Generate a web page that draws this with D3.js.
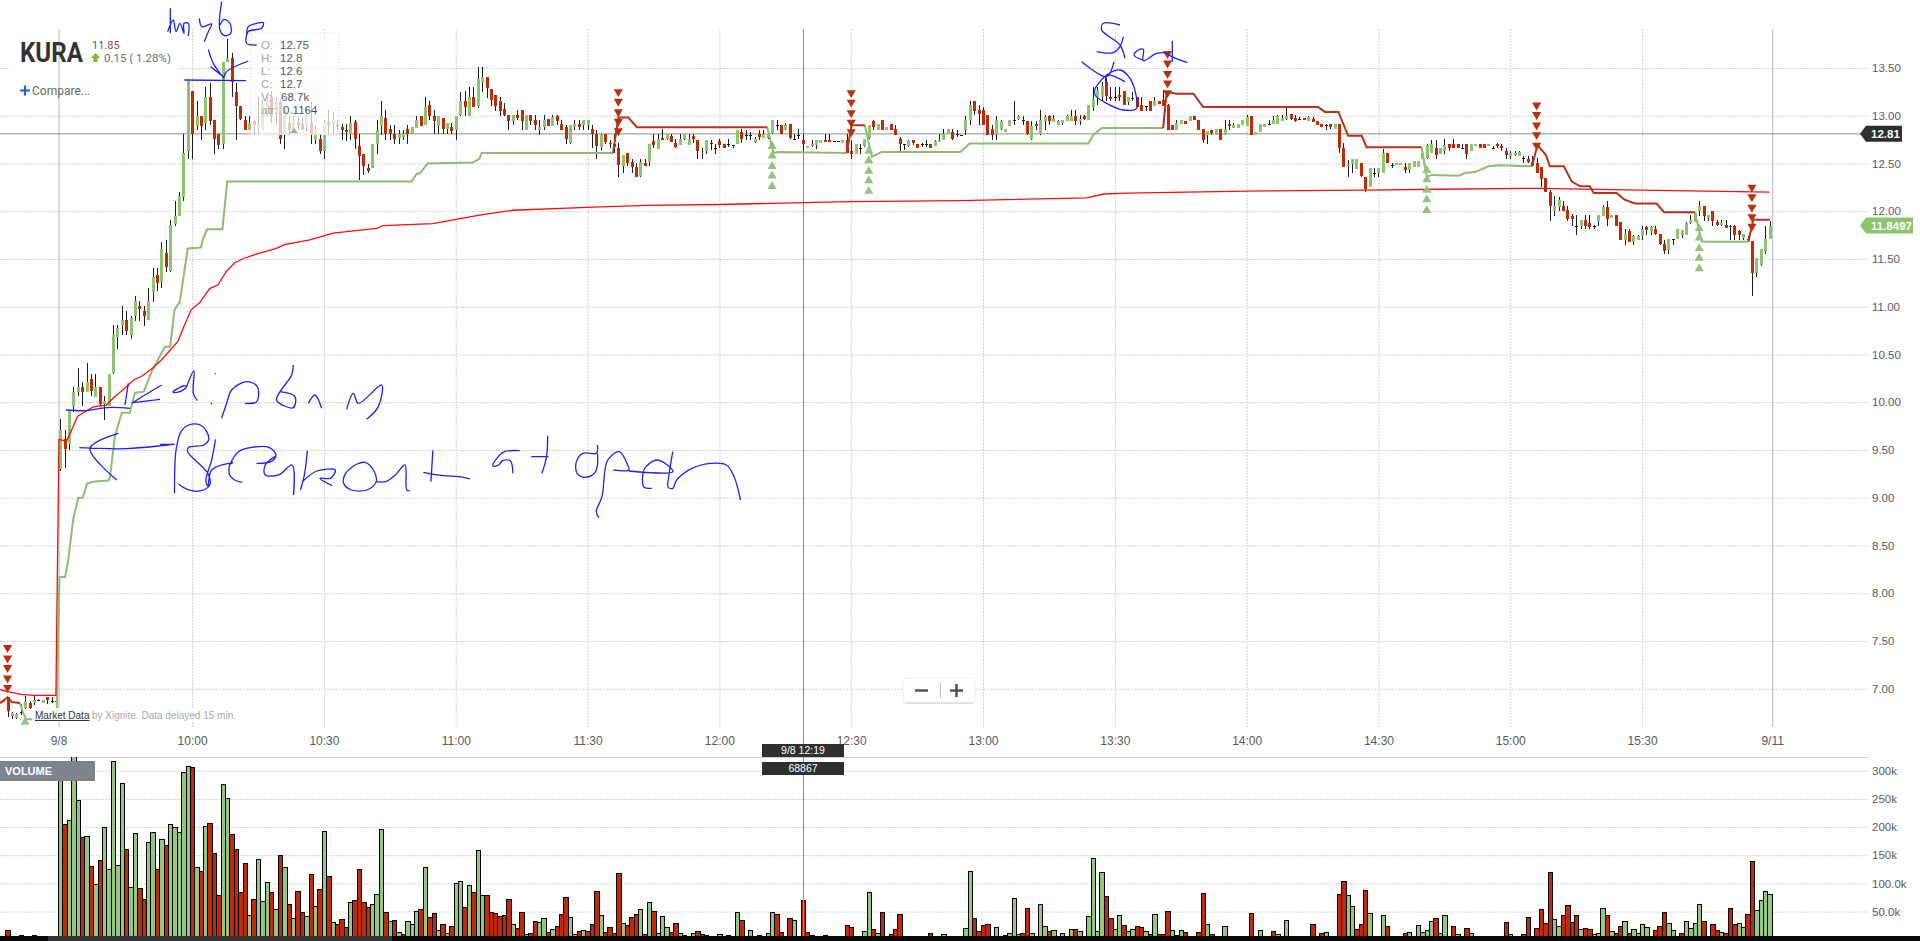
<!DOCTYPE html>
<html>
<head>
<meta charset="utf-8">
<script src="https://cdnjs.cloudflare.com/ajax/libs/d3/7.8.5/d3.min.js"></script>
<style>
  html, body { margin: 0; padding: 0; background: #fff; overflow: hidden; }
  svg { display: block; }
  text { font-family: "Liberation Sans", Arial, sans-serif; }
</style>
</head>
<body>
<script>
// one candle per minute, the first one is 12 minutes before the open
var firstMinute = -12;

var openValues = [
6.91,6.72,6.70,6.76,6.80,6.85,6.85,6.88,6.85,6.91,6.87,6.87,
9.30,9.61,9.56,9.96,10.11,10.16,10.11,10.24,10.06,10.16,
9.98,9.96,10.30,10.69,10.81,10.86,10.70,10.90,11.01,10.95,
10.86,11.15,11.33,11.25,11.56,11.38,11.87,11.95,12.15,12.63,
13.26,12.90,13.00,12.93,13.20,12.95,12.81,12.70,13.56,13.60,
13.25,13.10,12.95,12.85,12.94,12.87,12.85,13.02,13.20,13.00,
13.14,12.80,12.92,12.83,12.93,12.91,12.88,12.92,12.75,12.76,
12.63,12.93,12.91,12.91,12.88,12.85,12.80,12.93,12.68,12.60,
12.45,12.45,12.70,12.90,12.98,12.86,12.81,12.77,12.78,12.86,
12.81,12.88,13.00,12.90,13.11,13.00,12.90,12.98,12.86,12.88,
12.85,13.00,13.15,13.00,13.20,13.10,13.36,13.41,13.28,13.22,
13.15,13.07,13.01,12.95,13.01,13.06,12.85,13.01,12.95,12.85,
12.88,12.97,12.90,13.00,12.91,12.88,12.71,12.88,12.91,12.90,
12.90,12.86,12.81,12.67,12.81,12.71,12.70,12.66,12.47,12.61,
12.51,12.46,12.36,12.50,12.51,12.73,12.66,12.77,12.76,12.79,
12.71,12.70,12.76,12.70,12.79,12.75,12.60,12.63,12.71,12.66,
12.73,12.70,12.70,12.69,12.70,12.83,12.80,12.80,12.73,12.81,
12.77,12.77,12.81,12.90,12.90,12.86,12.91,12.76,12.80,12.75,
12.66,12.68,12.70,12.72,12.75,12.75,12.73,12.73,12.72,12.75,
12.63,12.60,12.66,12.69,12.76,12.94,12.85,12.95,12.85,12.91,
12.86,12.76,12.70,12.68,12.75,12.70,12.70,12.70,12.70,12.68,
12.73,12.75,12.81,12.83,12.81,12.80,12.85,12.95,13.15,13.06,
13.06,13.01,12.86,12.80,12.86,12.83,12.89,12.95,12.97,12.95,
12.94,12.75,12.91,12.80,12.95,13.00,12.94,12.90,12.92,12.95,
12.95,13.00,12.95,13.00,12.95,13.10,13.20,13.20,13.35,13.20,
13.20,13.22,13.26,13.15,13.19,13.20,13.11,13.10,13.15,13.10,
13.15,13.16,13.11,12.90,12.85,12.91,12.94,12.95,13.00,12.95,
12.86,12.80,12.85,12.80,12.86,12.80,12.91,12.87,12.87,12.90,
12.90,13.00,12.80,12.83,12.88,12.91,12.91,12.92,12.95,12.97,
13.02,12.98,12.97,12.98,12.95,12.97,12.94,12.91,12.90,12.91,
12.86,12.91,12.66,12.47,12.50,12.45,12.50,12.36,12.25,12.40,
12.40,12.40,12.61,12.48,12.48,12.48,12.46,12.43,12.47,12.47,
12.55,12.55,12.61,12.66,12.60,12.63,12.70,12.70,12.70,12.66,
12.70,12.63,12.68,12.70,12.70,12.68,12.66,12.70,12.68,12.63,
12.58,12.59,12.58,12.56,12.55,12.52,12.50,12.46,12.35,12.20,
12.00,12.05,12.05,12.01,11.95,11.85,11.85,11.91,11.88,11.85,
11.90,11.95,12.04,11.93,11.96,11.89,11.70,11.79,11.68,11.70,
11.74,11.83,11.79,11.81,11.76,11.66,11.59,11.71,11.71,11.75,
11.75,11.88,11.89,12.00,12.05,11.93,12.00,11.89,11.86,11.86,
11.85,11.84,11.79,11.72,11.71,11.69,11.35,11.43,11.58,11.71];

var highValues = [
6.91,6.76,6.75,6.84,6.92,6.87,6.92,6.89,6.88,6.91,6.91,6.88,
9.82,9.71,9.91,10.16,10.36,10.21,10.41,10.30,10.30,10.16,
10.06,10.30,10.81,10.81,11.01,10.96,10.90,11.11,11.06,11.01,
11.20,11.41,11.41,11.68,11.70,11.91,12.11,12.20,12.81,13.36,
13.26,13.15,13.00,13.30,13.34,12.95,12.81,13.56,13.80,13.66,
13.34,13.10,13.00,13.00,12.95,13.20,13.16,13.20,13.26,13.20,
13.16,13.10,13.00,13.00,13.00,12.99,13.09,13.14,12.90,12.81,
12.95,13.06,13.04,12.95,12.91,12.91,13.00,12.95,12.81,12.60,
12.49,12.70,12.95,13.15,13.06,12.90,12.90,12.85,12.85,12.90,
12.88,13.00,13.00,13.20,13.15,13.06,13.00,12.98,12.92,12.92,
13.00,13.25,13.26,13.30,13.30,13.51,13.51,13.41,13.28,13.22,
13.20,13.13,13.01,13.01,13.06,13.06,13.01,13.01,13.01,12.95,
13.01,12.97,13.01,13.01,12.95,12.90,12.90,12.95,12.95,12.95,
12.95,12.90,12.85,12.81,12.81,12.75,12.81,12.71,12.59,12.61,
12.55,12.50,12.55,12.55,12.70,12.81,12.81,12.86,12.81,12.81,
12.76,12.81,12.81,12.81,12.81,12.75,12.66,12.75,12.75,12.70,
12.76,12.70,12.76,12.69,12.85,12.86,12.85,12.83,12.78,12.85,
12.85,12.85,12.95,12.95,12.90,12.92,12.91,12.81,12.86,12.81,
12.68,12.75,12.75,12.75,12.81,12.81,12.74,12.74,12.75,12.81,
12.75,12.70,12.70,12.76,12.90,12.95,12.91,12.95,12.88,12.91,
12.90,12.78,12.70,12.75,12.75,12.70,12.71,12.75,12.70,12.75,
12.81,12.86,12.86,12.86,12.85,12.80,13.00,13.15,13.15,13.11,
13.09,13.01,12.90,13.00,12.95,12.86,12.95,13.15,13.01,13.00,
12.94,12.94,12.94,13.06,13.01,13.01,13.01,12.95,12.95,13.01,
13.06,13.06,13.01,13.01,13.11,13.30,13.30,13.35,13.40,13.30,
13.30,13.30,13.26,13.20,13.25,13.20,13.20,13.10,13.15,13.20,
13.15,13.27,13.12,12.90,12.95,12.95,12.94,13.00,13.00,12.95,
12.86,12.84,12.85,12.86,12.86,12.95,12.95,12.92,12.91,12.95,
13.01,13.00,12.83,12.91,12.91,12.95,13.00,13.01,13.01,13.10,
13.02,13.01,12.99,12.98,13.00,12.99,12.94,12.91,12.91,12.91,
12.91,12.91,12.71,12.54,12.55,12.55,12.50,12.36,12.45,12.45,
12.45,12.65,12.61,12.50,12.50,12.50,12.50,12.50,12.53,12.53,
12.61,12.70,12.75,12.75,12.66,12.76,12.70,12.76,12.70,12.70,
12.70,12.70,12.70,12.70,12.70,12.70,12.68,12.71,12.70,12.66,
12.63,12.63,12.63,12.58,12.58,12.58,12.56,12.46,12.35,12.22,
12.16,12.15,12.11,12.05,11.97,11.96,11.91,11.96,11.96,11.86,
11.96,12.06,12.11,11.96,11.96,11.89,11.81,11.81,11.75,11.75,
11.85,11.85,11.85,11.85,11.76,11.70,11.71,11.71,11.81,11.80,
11.89,11.96,11.98,12.11,12.05,11.96,12.00,11.91,11.91,11.91,
11.86,11.86,11.80,11.76,11.74,11.69,11.51,11.60,11.85,11.90];

var lowValues = [
6.70,6.68,6.68,6.72,6.79,6.79,6.83,6.87,6.85,6.84,6.85,6.86,
9.28,9.31,9.50,9.90,10.06,9.96,10.11,10.06,10.06,9.96,
9.81,9.96,10.30,10.56,10.70,10.70,10.66,10.85,10.85,10.80,
10.86,11.05,11.16,11.20,11.36,11.36,11.85,11.95,12.11,12.55,
12.55,12.85,12.75,12.85,12.90,12.60,12.65,12.65,13.56,13.20,
12.75,12.96,12.85,12.85,12.80,12.80,12.85,13.00,12.92,12.90,
12.70,12.65,12.80,12.83,12.85,12.85,12.83,12.70,12.70,12.60,
12.55,12.80,12.80,12.85,12.75,12.74,12.75,12.65,12.33,12.38,
12.40,12.45,12.60,12.80,12.75,12.75,12.70,12.70,12.75,12.70,
12.81,12.88,12.90,12.90,12.95,12.81,12.81,12.81,12.81,12.81,
12.75,13.00,13.00,13.00,13.10,13.08,13.25,13.19,13.10,13.05,
13.00,13.00,12.85,12.90,12.95,12.85,12.85,12.90,12.85,12.80,
12.85,12.90,12.90,12.90,12.85,12.70,12.70,12.85,12.85,12.85,
12.85,12.66,12.55,12.64,12.70,12.66,12.61,12.36,12.40,12.47,
12.40,12.36,12.36,12.47,12.47,12.66,12.66,12.75,12.75,12.73,
12.66,12.70,12.75,12.70,12.71,12.55,12.55,12.60,12.64,12.60,
12.66,12.66,12.67,12.66,12.70,12.71,12.75,12.75,12.71,12.75,
12.77,12.76,12.81,12.85,12.81,12.85,12.76,12.75,12.76,12.62,
12.66,12.67,12.65,12.72,12.73,12.73,12.72,12.72,12.72,12.61,
12.55,12.60,12.60,12.67,12.76,12.85,12.85,12.85,12.85,12.85,
12.80,12.61,12.64,12.67,12.69,12.66,12.67,12.67,12.66,12.68,
12.73,12.75,12.81,12.75,12.78,12.80,12.80,12.90,13.01,12.90,
12.90,12.80,12.75,12.75,12.85,12.83,12.89,12.90,12.95,12.90,
12.80,12.75,12.85,12.80,12.85,12.90,12.94,12.90,12.90,12.94,
12.95,12.90,12.90,12.95,12.95,13.05,13.11,13.15,13.15,13.15,
13.15,13.15,13.11,13.11,13.15,13.10,13.05,13.05,13.05,13.10,
13.12,13.10,12.85,12.85,12.85,12.91,12.91,12.95,12.95,12.85,
12.71,12.70,12.80,12.80,12.75,12.80,12.85,12.87,12.87,12.90,
12.90,12.80,12.80,12.83,12.88,12.90,12.91,12.91,12.95,12.96,
12.95,12.93,12.96,12.96,12.95,12.94,12.90,12.88,12.85,12.86,
12.86,12.61,12.46,12.36,12.40,12.45,12.36,12.20,12.25,12.36,
12.36,12.40,12.51,12.45,12.48,12.48,12.40,12.40,12.47,12.47,
12.55,12.55,12.61,12.55,12.60,12.60,12.63,12.66,12.66,12.66,
12.55,12.63,12.68,12.66,12.66,12.68,12.65,12.66,12.63,12.55,
12.55,12.58,12.58,12.50,12.50,12.48,12.40,12.25,12.20,11.90,
11.95,12.00,12.00,11.90,11.85,11.75,11.81,11.81,11.81,11.81,
11.85,11.95,11.85,11.93,11.85,11.70,11.65,11.68,11.65,11.70,
11.70,11.75,11.75,11.75,11.65,11.55,11.55,11.65,11.71,11.72,
11.75,11.87,11.89,11.95,11.90,11.90,11.85,11.85,11.85,11.83,
11.70,11.70,11.70,11.70,11.70,11.11,11.31,11.43,11.55,11.71];

var closeValues = [
6.76,6.75,6.74,6.76,6.86,6.80,6.88,6.88,6.88,6.88,6.87,6.87,
9.71,9.51,9.91,10.11,10.16,10.11,10.21,10.11,10.16,9.98,
10.01,10.30,10.70,10.78,10.86,10.75,10.88,11.06,10.98,10.90,
11.06,11.31,11.25,11.60,11.41,11.86,11.95,12.16,12.61,13.36,
12.81,13.00,12.90,13.20,12.95,12.75,12.70,13.56,13.60,13.35,
13.10,12.96,12.85,12.92,12.90,12.90,13.12,13.15,13.00,13.15,
12.75,13.10,12.85,12.95,12.90,12.85,13.02,12.81,12.85,12.63,
12.92,12.90,12.95,12.88,12.85,12.83,12.92,12.75,12.58,12.47,
12.42,12.70,12.85,13.00,12.81,12.81,12.76,12.81,12.81,12.81,
12.88,12.96,12.90,13.09,13.00,12.95,13.00,12.86,12.92,12.84,
13.00,13.15,13.09,13.20,13.10,13.38,13.41,13.30,13.16,13.11,
13.05,13.01,12.95,13.01,12.98,12.95,13.01,12.95,12.90,12.88,
12.95,12.90,12.99,12.95,12.85,12.75,12.90,12.91,12.88,12.95,
12.95,12.81,12.68,12.80,12.73,12.70,12.67,12.48,12.59,12.51,
12.46,12.36,12.51,12.47,12.70,12.69,12.76,12.75,12.81,12.73,
12.67,12.76,12.81,12.76,12.76,12.63,12.61,12.75,12.71,12.66,
12.69,12.66,12.70,12.69,12.85,12.76,12.80,12.80,12.76,12.78,
12.81,12.81,12.95,12.90,12.81,12.90,12.76,12.76,12.80,12.71,
12.68,12.70,12.75,12.75,12.73,12.73,12.73,12.73,12.75,12.61,
12.60,12.70,12.66,12.76,12.90,12.88,12.91,12.85,12.88,12.85,
12.80,12.71,12.70,12.73,12.72,12.66,12.70,12.70,12.66,12.73,
12.75,12.81,12.86,12.76,12.81,12.80,12.95,13.11,13.05,13.02,
12.90,12.80,12.80,12.95,12.94,12.86,12.95,12.95,13.00,12.95,
12.80,12.89,12.89,12.95,12.99,12.95,12.97,12.94,12.95,13.00,
13.00,12.95,12.97,12.97,13.11,13.18,13.26,13.31,13.20,13.18,
13.20,13.20,13.11,13.20,13.19,13.10,13.05,13.10,13.05,13.15,
13.12,13.10,12.85,12.85,12.92,12.95,12.91,13.00,12.96,12.85,
12.75,12.84,12.82,12.86,12.75,12.86,12.89,12.90,12.91,12.95,
12.99,12.80,12.83,12.91,12.91,12.91,12.95,13.00,12.98,13.00,
12.97,12.95,12.97,12.96,12.99,12.94,12.90,12.88,12.90,12.88,
12.91,12.66,12.46,12.48,12.55,12.55,12.36,12.23,12.45,12.40,
12.45,12.61,12.51,12.48,12.50,12.50,12.43,12.50,12.53,12.53,
12.61,12.69,12.70,12.59,12.66,12.69,12.66,12.66,12.66,12.66,
12.60,12.70,12.70,12.66,12.66,12.70,12.66,12.68,12.66,12.59,
12.61,12.61,12.62,12.56,12.52,12.48,12.40,12.33,12.20,12.05,
12.05,12.12,12.00,11.92,11.92,11.85,11.91,11.85,11.84,11.85,
11.96,12.04,11.91,11.96,11.85,11.70,11.76,11.68,11.74,11.74,
11.81,11.80,11.83,11.76,11.66,11.59,11.71,11.71,11.81,11.80,
11.88,11.91,11.98,12.05,11.95,11.96,11.90,11.86,11.88,11.83,
11.84,11.75,11.75,11.76,11.70,11.35,11.51,11.60,11.71,11.85];

// thousands of shares, same minutes as the candles
var volumeValues = [
17,2,2,8,2,2,8,2,2,2,2,2,
300,205,212,340,248,182,184,130,98,141,
200,125,317,133,278,161,93,189,92,72,
173,191,125,179,168,205,200,191,298,308,
306,129,122,201,207,154,79,276,251,188,
161,85,136,44,72,143,69,102,85,54,
150,129,63,38,86,49,42,117,60,90,
193,113,31,28,37,22,67,70,125,67,
58,63,81,196,49,33,35,14,10,33,
28,51,54,129,40,47,17,28,12,24,
100,104,58,97,85,159,79,79,49,47,
42,44,72,28,21,49,10,12,33,31,
38,14,19,24,46,76,40,10,15,17,
15,28,86,44,14,22,12,118,30,26,
40,46,54,10,67,51,12,42,22,14,
30,12,8,5,12,15,10,8,3,3,
10,2,8,3,49,35,2,17,3,8,
3,12,49,46,14,2,38,35,6,70,
14,8,2,2,8,2,2,3,3,26,
22,2,2,15,85,19,12,49,2,10,
19,46,2,2,2,2,2,2,12,2,
2,10,2,2,2,2,21,122,38,15,
26,28,2,22,2,8,12,74,10,12,
56,12,2,63,24,15,17,2,12,2,
19,19,15,4,42,145,15,120,78,38,
19,44,26,15,19,24,22,15,10,46,
10,10,51,17,8,17,14,2,2,14,
83,28,10,6,2,24,2,1,1,2,
6,47,2,17,2,2,15,10,2,35,
2,2,2,2,2,28,2,12,14,2,
2,81,104,79,60,19,28,88,47,2,
6,44,24,2,2,2,12,14,2,26,
14,17,33,38,12,44,2,24,10,2,
21,12,2,2,2,2,2,2,6,31,
10,2,2,10,40,2,21,54,30,120,
37,24,44,62,31,44,19,21,19,10,
12,56,44,15,12,24,33,12,19,12,
28,22,6,17,24,49,30,17,2,12,
33,21,30,63,33,4,28,17,14,12,
56,28,30,22,46,140,53,70,86,81];

// g = up volume, r = down volume
var volumeColors = [
'rggggggggggg',
'grgggrgrgr','gggggrggrr','ggrgrggggg','rgrgrrrggr','rrrgrgggrg',
'rgrgrrgrgr','grgrrrgrrr','rgggrgrgrg','ggrgrrgrgr','ggrgrggrrr',
'rrrgrrgrrg','grgrrrggrg','rrrgrrrrgr','rrgrgrgggr','rggggrrggg',
'gggggrgggg','gggrrgrggr','rgggrggggr','rggggrgrgr','rrggggggrg',
'ggggggggrr','rrgggggggr','rggggrgggg','grggggggrr','ggrggrrgrg',
'rrrgggrggr','rgrggggggg','grggggrggg','gggggrgrgg','grrggrrrgg',
'ggrgggrggg','gggrgggrgg','rggggggggr','gggrrgrrrr','ggrrrrgrrg',
'ggrgrrgrgg','gggrrrgggr','ggggrgrrgr','rrggrrgggg'].join('');

// [minute, price], null breaks the line
var vwapLine = [[-13.7,6.99],[-12,6.97],[-9,6.94],[-6,6.93],[-1,6.93],[-0.3,9.61],[1.4,9.59],[2.6,9.71],[3.9,9.85],
[5.6,9.9],[7.5,9.95],[10.5,9.97],[12.4,10.06],[14.3,10.13],[16.6,10.23],[18.8,10.28],[21.1,10.36],[23.4,10.46],
[26.8,10.64],[28,10.78],[29.8,10.97],[31.7,11.04],[34,11.19],[35.9,11.23],[37.8,11.37],[39.7,11.46],[42,11.51],
[44.6,11.55],[49.2,11.61],[51,11.65],[56.8,11.7],[62.1,11.77],[72,11.82],[73.5,11.85],[84.8,11.87],[95.4,11.96],
[103,12.01],[119.8,12.04],[133.4,12.06],[150,12.07],[169,12.09],[180,12.1],[204.8,12.11],[233.6,12.14],[237.4,12.18],
[242.7,12.19],[270,12.21],[297.3,12.22],[314,12.23],[336.8,12.24],[359.5,12.22],[389,12.2]];

var stopGreen = [[-13.7,6.85],[-12.5,6.87],null,[-9.2,6.85],[-8.4,6.74],[-7.7,6.68],[-1.2,6.68],[-0.8,6.77],[-0.2,8.17],
[1.1,8.17],[1.8,8.34],[2.6,8.65],[3,8.79],[4.1,9],[5.1,9],[6.1,9.15],[7.9,9.17],[10.9,9.18],[11.3,9.21],[12.4,9.64],
[14,9.89],[15.8,9.89],[17,10.1],[19,10.11],[20.8,10.32],[23.8,10.58],[25,10.58],[26,10.97],[27.2,11.05],[29,11.61],
[32,11.62],[32.5,11.71],[33.4,11.81],[36.9,11.81],[38,12.31],[79.9,12.31],[81.1,12.39],[81.9,12.4],[83.6,12.5],
[93.9,12.51],[95.4,12.55],[95.9,12.61],[125.8,12.61],null,
[160.9,12.88],[162.3,12.61],[163.4,12.62],[179,12.61],null,
[183.1,12.9],[184.7,12.57],[186.9,12.62],[204.8,12.62],[207,12.71],[234,12.71],[235.1,12.8],[237,12.87],[251,12.87],null,
[309.8,12.67],[311,12.36],[312.1,12.38],[318.2,12.37],[319.7,12.4],[322,12.41],[325,12.47],[327.7,12.48],[334.9,12.47],null,
[372,11.99],[373.6,11.68],[384.2,11.68]];

var stopRed = [[-13.7,6.85],[-12,6.91],[-11,6.86],[-9.2,6.85],null,
[125.8,12.61],[127,12.98],[129.3,12.98],[131.2,12.88],[160.9,12.88],null,
[179,12.61],[180.1,12.9],[183.1,12.9],null,
[251,12.87],[251.8,13.25],[254,13.23],[257.9,13.23],[260.1,13.09],[286.3,13.09],[287.8,13.04],[290.9,13.04],
[293.1,12.79],[296.2,12.79],[297.3,12.67],[309.8,12.67],null,
[334.9,12.47],[336.2,12.69],[338.1,12.59],[339,12.47],[342.2,12.47],[344,12.31],[345.9,12.26],[348.1,12.26],
[349,12.19],[354.2,12.19],[356,12.12],[358.4,12.08],[363.3,12.08],[365,11.99],[372,11.99],null,
[384.2,11.68],[385.3,11.91],[389.1,11.91]];

// [minute, price] of each signal marker
var sellSignals = [
[-12,7.43],[-12,7.32],[-12,7.22],[-12,7.11],[-12,7.01],
[127,13.25],[127,13.15],[127,13.04],[127,12.94],[127,12.84],
[180,13.24],[180,13.14],[180,13.03],[180,12.93],[180,12.83],
[252,13.65],[252,13.55],[252,13.44],[252,13.34],[252,13.24],
[336,13.11],[336,13.01],[336,12.9],[336,12.8],[336,12.69],
[385,12.25],[385,12.15],[385,12.04],[385,11.94],[385,11.84]];

var buySignals = [
[-8,6.65],
[162,12.68],[162,12.58],[162,12.47],[162,12.37],[162,12.26],
[184,12.63],[184,12.53],[184,12.42],[184,12.32],[184,12.21],
[311,12.43],[311,12.33],[311,12.22],[311,12.12],[311,12.01],
[373,11.82],[373,11.72],[373,11.61],[373,11.51],[373,11.4]];

var priceTicks = [7,7.5,8,8.5,9,9.5,10,10.5,11,11.5,12,12.5,13,13.5];
var volumeTicks = [50,100,150,200,250,300];
var volumeTickLabels = ['50.0k','100.0k','150k','200k','250k','300k'];
var timeTicks = [-0.4,30,60,90,120,150,180,210,240,270,300,330,360,389.6];
var timeTickLabels = ['9/8','10:00','10:30','11:00','11:30','12:00','12:30','13:00','13:30','14:00','14:30','15:00','15:30','9/11'];

var tooltipLabels = ['O:','H:','L:','C:','V:','atr:'];
var tooltipValues = ['12.75','12.8','12.6','12.7','68.7k','0.1164'];

// hand drawn notes on top of the chart, each group in its own crop coordinates
var notesTop = 'M511,25L511,100M503,95L520,60L528,95L540,70L552,100L552,70L565,70L565,108 M598,55L606,80L635,72L625,95L613,125 ' +
  'M665,5L660,90L675,107L692,100L690,70L672,58L660,75 M740,105L745,80L770,70L790,68L785,85L745,95L740,130L770,135 ' +
  'M625,148L640,190L672,235M632,200L672,232M672,232L680,215L745,183 M553,240L738,242';
var notesDip = 'M198,510L260,512L300,505L340,502L390,505 M375,495L385,430 M395,490L435,465L485,435 M400,488L480,478 ' +
  'M518,455L550,438L560,440L540,455L518,458 M560,440L582,392L580,460L592,482 M645,400L647,402 M633,488L635,492 ' +
  'M665,535L680,490L695,450L740,425L772,440L770,485L735,490 M880,375L875,405L830,480L880,503L885,470L840,455 ' +
  'M925,490L945,465L965,505 M1040,508L1060,460L1075,490L1145,435L1135,500L1100,538 ' +
  'M238,623L380,626L520,613 M355,580L270,625L350,720';
var notesBreakout = 'M38,250L42,120L55,65L75,45L105,45L122,65L127,90L115,105L75,112L72,125L125,190L130,225L105,243L75,240L48,222 ' +
  'M145,88L135,150L120,210L125,228L135,180L180,160L190,160 M190,155L182,165L182,195L195,210L215,217 ' +
  'M182,165L205,125L240,112L285,112L303,135L290,155L252,160 M300,140L275,165L275,195L310,195L345,165L349,255 ' +
  'M385,122L378,190L367,240 M372,215L410,183L458,180L445,205L418,205L450,227 ' +
  'M510,165L485,190L480,220L500,240L540,240L565,215L555,175L535,157L510,165 M565,215L590,215L615,195L640,165L645,240L652,242 ' +
  'M713,122L708,215 M688,187L740,197L780,200L810,207 M940,122L900,125L880,145L870,168L885,165L895,152L915,152L922,190 ' +
  'M1013,77L1010,140L998,190 M970,140L1015,140 M1143,105L1140,130L1105,130L1088,155L1090,190L1110,202L1135,190L1143,165L1143,130 ' +
  'M1147,323L1140,305L1155,260L1170,150L1200,125L1222,165L1225,180L1185,180 M1225,183L1340,185L1300,150L1270,170L1262,190L1265,232L1285,235 ' +
  'M1340,125L1330,195L1328,232L1340,235L1350,210L1390,175L1440,160L1480,165L1500,200L1517,270 M0,103L38,103';
var notesStart = 'M480,15L430,10L425,30L480,75L495,115 M410,95L460,98L480,80L490,50 ' +
  'M548,120L522,105L535,90L550,88L550,122L590,100L620,100L635,110L682,128 M637,62L637,125 ' +
  'M365,125L440,170L462,125 M438,190L440,165L495,185 M405,205L440,165L480,150L510,175L530,235L530,265L490,270L440,250L405,225L405,205';

var plotRight = 1868;
var greenBody = '#8cc46f', redBody = '#c22a05', gridColor = '#d2d2d2';

var svg = d3.select('body').append('svg')
  .attr('width', 1920)
  .attr('height', 941);

var x = d3.scaleLinear().domain([0, 360]).range([60.3, 1642.1]);
var yPrice = d3.scaleLinear().domain([7, 13]).range([688.7, 115.7]);
var yVolume = d3.scaleLinear().domain([0, 300]).range([939.7, 770.7]);

svg.append('defs').append('clipPath').attr('id', 'volClip')
  .append('rect').attr('x', 0).attr('y', 757).attr('width', plotRight).attr('height', 184);

// grids come from the axes
function styleAxis(g, size) {
  g.select('.domain').remove();
  g.selectAll('.tick line').attr('stroke', gridColor).attr('stroke-dasharray', '2,1');
  g.selectAll('.tick text').attr('fill', '#5a5a5a').style('font-size', size + 'px');
}

var priceAxis = svg.append('g')
  .attr('transform', 'translate(' + plotRight + ',0)')
  .call(d3.axisRight(yPrice).tickValues(priceTicks).tickSize(-plotRight).tickPadding(4).tickFormat(d3.format('.2f')));
styleAxis(priceAxis, 11.5);

// the header hides the top grid line
svg.append('rect').attr('x', 10).attr('y', 62).attr('width', 168).attr('height', 12).attr('fill', '#fff');

var timeAxis = svg.append('g')
  .attr('transform', 'translate(0,727)')
  .call(d3.axisBottom(x).tickValues(timeTicks).tickSize(-698).tickPadding(9)
    .tickFormat(function(d, i) { return timeTickLabels[i]; }));
styleAxis(timeAxis, 12);
timeAxis.selectAll('.tick line').filter(function(d) { return d < 0 || d > 380; })
  .attr('stroke', '#bbb').attr('stroke-dasharray', null);

var volumeAxis = svg.append('g')
  .attr('transform', 'translate(' + plotRight + ',0)')
  .call(d3.axisRight(yVolume).tickValues(volumeTicks).tickSize(-plotRight).tickPadding(4)
    .tickFormat(function(d, i) { return volumeTickLabels[i]; }));
styleAxis(volumeAxis, 11.5);

svg.append('line').attr('x1', 0).attr('x2', plotRight).attr('y1', 757.5).attr('y2', 757.5)
  .attr('stroke', '#ccc').attr('stroke-width', 1);

// volume bars, snapped to whole pixels so the neighbours share an outline
var minutes = d3.range(openValues.length);

function barLeft(d) { return Math.round(x(d + firstMinute) - 2.2) + 0.5; }

svg.append('g').attr('clip-path', 'url(#volClip)').selectAll('rect')
  .data(minutes)
  .enter()
  .append('rect')
  .attr('x', barLeft)
  .attr('y', function(d) { return Math.round(yVolume(volumeValues[d])) + 0.5; })
  .attr('width', function(d) { return barLeft(d + 1) - barLeft(d); })
  .attr('height', function(d) { return Math.max(0, 940 - Math.round(yVolume(volumeValues[d]))); })
  .attr('fill', function(d) { return volumeColors[d] == 'g' ? '#93c77d' : redBody; })
  .attr('stroke', '#000')
  .attr('stroke-width', 1);

// bottom strip
svg.append('rect').attr('x', 0).attr('y', 936).attr('width', 1920).attr('height', 5).attr('fill', '#0a0a0a');
svg.append('rect').attr('x', 48).attr('y', 936).attr('width', 344).attr('height', 5).attr('fill', '#333');

// crosshair
svg.append('line').attr('x1', 803.5).attr('x2', 803.5).attr('y1', 29).attr('y2', 936)
  .attr('stroke', '#8e8e8e').attr('stroke-width', 1);
svg.append('line').attr('x1', 0).attr('x2', 1861).attr('y1', yPrice(12.81)).attr('y2', yPrice(12.81))
  .attr('stroke', '#8e8e8e').attr('stroke-width', 1);

// candles
var candles = svg.append('g').attr('shape-rendering', 'crispEdges');

candles.selectAll('line')
  .data(minutes)
  .enter()
  .append('line')
  .attr('x1', function(d) { return Math.round(x(d + firstMinute)) + 0.5; })
  .attr('x2', function(d) { return Math.round(x(d + firstMinute)) + 0.5; })
  .attr('y1', function(d) { return yPrice(highValues[d]); })
  .attr('y2', function(d) { return yPrice(lowValues[d]); })
  .attr('stroke', '#1d1d1d')
  .attr('stroke-width', 1);

candles.selectAll('rect')
  .data(minutes)
  .enter()
  .append('rect')
  .attr('x', function(d) { return Math.round(x(d + firstMinute)) - 1; })
  .attr('y', function(d) { return Math.round(yPrice(Math.max(openValues[d], closeValues[d]))); })
  .attr('width', 3)
  .attr('height', function(d) {
    return Math.max(1, Math.round(Math.abs(yPrice(openValues[d]) - yPrice(closeValues[d]))));
  })
  .attr('fill', function(d) {
    if (openValues[d] == closeValues[d]) return '#1d1d1d';
    return closeValues[d] > openValues[d] ? greenBody : redBody;
  });

// indicator lines
var linePath = d3.line()
  .defined(function(d) { return d != null; })
  .x(function(d) { return x(d[0]); })
  .y(function(d) { return yPrice(d[1]); });

svg.append('path').attr('d', linePath(stopGreen)).attr('fill', 'none')
  .attr('stroke', '#8dbd72').attr('stroke-width', 2);
svg.append('path').attr('d', linePath(vwapLine)).attr('fill', 'none')
  .attr('stroke', '#f60f0f').attr('stroke-width', 1.3);
svg.append('path').attr('d', linePath(stopRed)).attr('fill', 'none')
  .attr('stroke', '#b8321a').attr('stroke-width', 2);

// signal markers
var triangle = d3.symbol().type(d3.symbolTriangle).size(36);

svg.append('g').selectAll('path')
  .data(sellSignals)
  .enter()
  .append('path')
  .attr('d', triangle)
  .attr('transform', function(d) { return 'translate(' + x(d[0]) + ',' + yPrice(d[1]) + ') rotate(180)'; })
  .attr('fill', '#b9300c');

svg.append('g').selectAll('path')
  .data(buySignals)
  .enter()
  .append('path')
  .attr('d', triangle)
  .attr('transform', function(d) { return 'translate(' + x(d[0]) + ',' + yPrice(d[1]) + ')'; })
  .attr('fill', '#91c47c');

// tooltip floats over the candles
svg.append('rect').attr('x', 251).attr('y', 33).attr('width', 88).attr('height', 102)
  .attr('fill', '#fff').attr('fill-opacity', 0.72)
  .attr('stroke', '#d8d8d8').attr('stroke-dasharray', '1,2');
svg.append('path').attr('d', 'M290,133L294,128L298,133Z').attr('fill', '#aaa');

var tooltipRows = svg.append('g').selectAll('g')
  .data(tooltipLabels)
  .enter()
  .append('g')
  .attr('transform', function(d, i) { return 'translate(0,' + (49 + i * 13) + ')'; });
tooltipRows.append('text').attr('x', 261).attr('fill', '#a3a3a3').style('font-size', '11.5px')
  .text(function(d) { return d; });
tooltipRows.append('text')
  .attr('x', function(d, i) { return i < 4 ? 280 : (i == 4 ? 281 : 283); })
  .attr('fill', '#555').style('font-size', '11.5px')
  .text(function(d, i) { return tooltipValues[i]; });

// header
svg.append('text').text('KURA').attr('x', 20).attr('y', 62)
  .attr('textLength', 63).attr('lengthAdjust', 'spacingAndGlyphs')
  .attr('fill', '#333').style('font-family', 'Roboto').style('font-weight', 700).style('font-size', '27px');
svg.append('text').text('11.85').attr('x', 92).attr('y', 49)
  .attr('fill', '#8f4a5c').style('font-family', 'Roboto').style('font-size', '11px');
svg.append('path').attr('d', 'M91,58L95.5,53L100,58L97.5,58L97.5,62L93.5,62L93.5,58Z').attr('fill', '#7cbb2e');
svg.append('text').text('0.15 ( 1.28%)').attr('x', 104).attr('y', 62)
  .attr('fill', '#6d6d6d').style('font-family', 'Roboto').style('font-size', '11.5px');
svg.append('path').attr('d', 'M20,90.5L30,90.5M25,85.5L25,95.5').attr('stroke', '#1f63c8').attr('stroke-width', 2.2);
svg.append('text').text('Compare...').attr('x', 32).attr('y', 95)
  .attr('fill', '#666').style('font-family', 'Roboto').style('font-size', '12px');

// market data credit
svg.append('rect').attr('x', 32).attr('y', 708).attr('width', 206).attr('height', 14).attr('fill', '#fff').attr('fill-opacity', 0.8);
svg.append('text').text('Market Data').attr('x', 35).attr('y', 719)
  .attr('fill', '#333').attr('text-decoration', 'underline').style('font-size', '10px');
svg.append('text').text('by Xignite. Data delayed 15 min.').attr('x', 92).attr('y', 719)
  .attr('fill', '#aaa').style('font-size', '10px');

// zoom buttons
svg.append('rect').attr('x', 903).attr('y', 678).attr('width', 72).attr('height', 25).attr('rx', 3)
  .attr('fill', '#fff').attr('stroke', '#ececec');
svg.append('line').attr('x1', 905).attr('x2', 973).attr('y1', 703).attr('y2', 703).attr('stroke', '#cfcfcf');
svg.append('path').attr('d', 'M915,690.5L928,690.5M950,690.5L963,690.5M956.5,684L956.5,697')
  .attr('stroke', '#555').attr('stroke-width', 2.6);
svg.append('line').attr('x1', 940.5).attr('x2', 940.5).attr('y1', 682).attr('y2', 698).attr('stroke', '#bbb');

// value tags on the right
function priceTag(y, right, label, fill, size) {
  svg.append('path')
    .attr('d', 'M1860,' + y + 'L1866,' + (y - 8) + 'L' + right + ',' + (y - 8) + 'L' + right + ',' + (y + 8) + 'L1866,' + (y + 8) + 'Z')
    .attr('fill', fill);
  svg.append('text').text(label).attr('x', 1871).attr('y', y + 4.5)
    .attr('fill', '#fff').style('font-size', size + 'px').style('font-weight', 700);
}
priceTag(yPrice(12.81), 1902, '12.81', '#2e2f31', 11.5);
priceTag(yPrice(11.8497), 1913, '11.8497', '#8cc46f', 11.5);

// crosshair labels and volume title
function darkBox(y, label) {
  svg.append('rect').attr('x', 762).attr('y', y).attr('width', 82).attr('height', 13).attr('fill', '#2e2f31');
  svg.append('text').text(label).attr('x', 803).attr('y', y + 10).attr('text-anchor', 'middle')
    .attr('fill', '#fff').style('font-size', '10.5px');
}
darkBox(744, '9/8 12:19');
darkBox(762, '68867');

svg.append('rect').attr('x', 0).attr('y', 761).attr('width', 95).attr('height', 20).attr('fill', '#7b858b');
svg.append('text').text('VOLUME').attr('x', 5).attr('y', 775)
  .attr('fill', '#fff').style('font-size', '11px').style('font-weight', 700);

// hand notes, each stroke smoothed so it reads as pen work
var penLine = d3.line().curve(d3.curveCatmullRom.alpha(0.5));

function note(strokes, transform) {
  var d = strokes.split('M').filter(function(s) { return s.trim() != ''; }).map(function(s) {
    return penLine(s.trim().split('L').map(function(p) { return p.split(',').map(Number); }));
  }).join('');
  svg.append('path').attr('d', d).attr('transform', transform)
    .attr('fill', 'none').attr('stroke', '#1c22f0').attr('stroke-width', 1.3)
    .attr('vector-effect', 'non-scaling-stroke').attr('stroke-linejoin', 'round');
}
note(notesTop, 'scale(0.3333)');
note(notesDip, 'translate(0,240) scale(0.3333)');
note(notesBreakout, 'translate(160,410) scale(0.3827,0.3333)');
note(notesStart, 'translate(960,20) scale(0.3333)');
</script>
</body>
</html>
